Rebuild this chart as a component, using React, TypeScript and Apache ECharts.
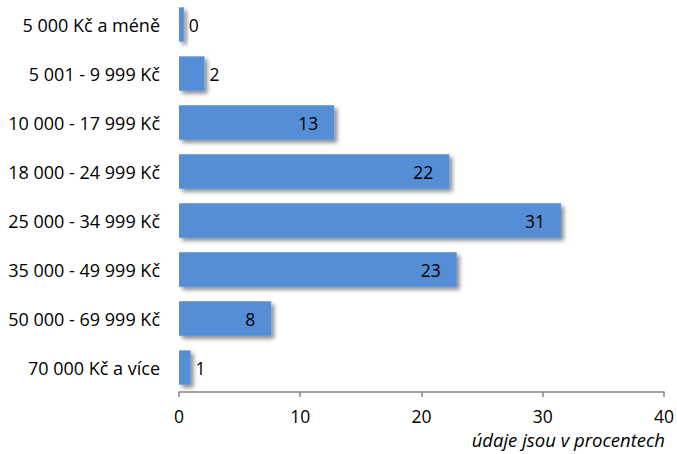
import React, { useEffect, useRef } from "react";
import * as echarts from "echarts";

const categories = [
  "5 000 Kč a méně",
  "5 001 - 9 999 Kč",
  "10 000 - 17 999 Kč",
  "18 000 - 24 999 Kč",
  "25 000 - 34 999 Kč",
  "35 000 - 49 999 Kč",
  "50 000 - 69 999 Kč",
  "70 000 Kč a více",
];
const values = [0.4, 2.1, 12.8, 22.3, 31.5, 22.9, 7.6, 0.95];
const labels = ["0", "2", "13", "22", "31", "23", "8", "1"];
const xTicks = [0, 10, 20, 30, 40];
const note = "údaje jsou v procentech";

const FONT = "'Open Sans', 'Noto Sans', sans-serif";
const FS = 18;

export default function App() {
  const ref = useRef<HTMLDivElement>(null);
  useEffect(() => {
    if (!ref.current) return;
    const chart = echarts.init(ref.current, null, { renderer: "svg" });
    const data = values.map((v, i) => {
      const inside = v >= 5;
      return {
        value: v,
        label: {
          show: true,
          position: inside ? "insideRight" : "right",
          distance: inside ? 16 : 5,
          formatter: () => labels[i],
          color: "#000",
          fontSize: 17.5,
          fontFamily: FONT,
        },
      };
    });
    chart.setOption({
      animation: false,
      grid: { left: 179, right: 12, top: 0, bottom: 62, containLabel: false },
      xAxis: {
        type: "value",
        min: xTicks[0],
        max: xTicks[xTicks.length - 1],
        interval: 10,
        splitLine: { show: false },
        axisLine: { show: true, lineStyle: { color: "#868686", width: 1.5 } },
        axisTick: { show: true, length: 5, lineStyle: { color: "#868686", width: 1.5 } },
        axisLabel: { color: "#000", fontSize: 17.5, fontFamily: FONT, margin: 15 },
      },
      yAxis: {
        type: "category",
        inverse: true,
        data: categories,
        axisLine: { show: false },
        axisTick: { show: false },
        axisLabel: { color: "#000", fontSize: FS, fontFamily: FONT, margin: 19 },
      },
      series: [
        {
          type: "bar",
          data,
          barCategoryGap: "30%",
          itemStyle: {
            color: "#558ED5",
            shadowColor: "rgba(0,0,0,0.45)",
            shadowBlur: 4,
            shadowOffsetX: 3,
            shadowOffsetY: 3,
          },
        },
      ],
      graphic: [
        {
          type: "text",
          right: 12,
          top: 430,
          style: {
            text: note,
            fill: "#000",
            font: `italic 18.5px ${FONT}`,
          },
        },
      ],
    });
    return () => chart.dispose();
  }, []);
  return <div ref={ref} style={{ width: 677, height: 454, position: "absolute", left: 0, top: 0 }} />;
}
